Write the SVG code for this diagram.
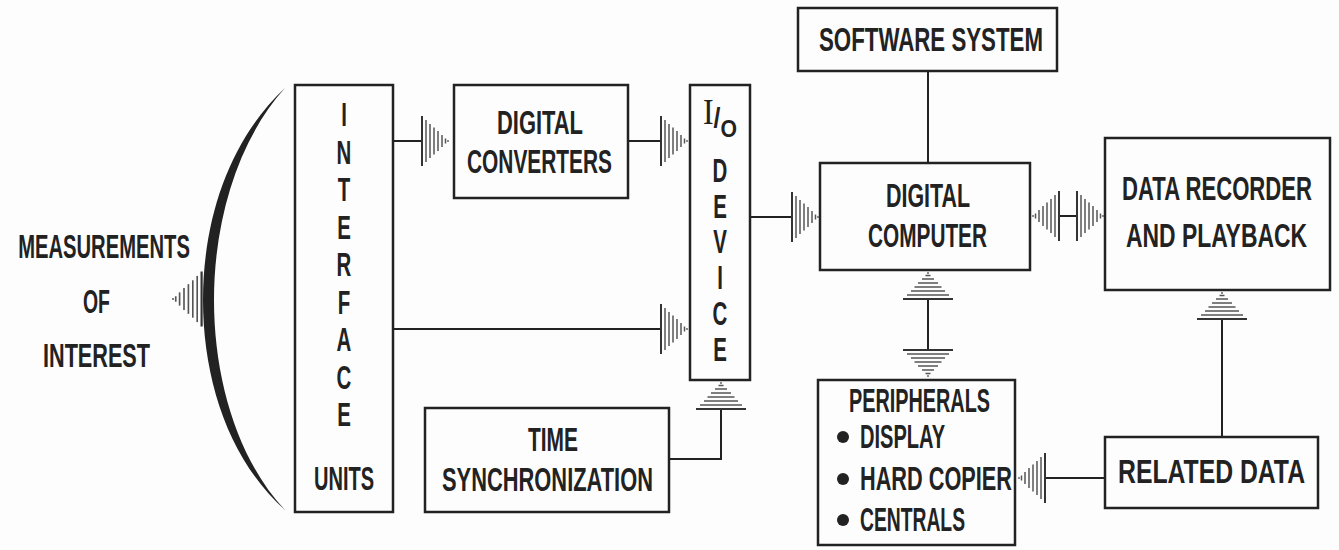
<svg xmlns="http://www.w3.org/2000/svg" xmlns:xlink="http://www.w3.org/1999/xlink" width="1339" height="550" viewBox="0 0 1339 550">
<style>
.box{fill:none;stroke:#222;stroke-width:2.5}
.ln{fill:none;stroke:#222;stroke-width:2}
.t{font-family:"Liberation Sans",Arial,sans-serif;font-weight:bold;font-size:33px;fill:#222}
.c{text-anchor:middle}
.h{stroke:#555;stroke-width:1.5;fill:none}
</style>
<defs>
<g id="ah">
<line class="h" x1="-26" y1="-25" x2="-26" y2="25" style="stroke:#333;stroke-width:2"/>
<line class="h" x1="-22" y1="-21" x2="-22" y2="21"/>
<line class="h" x1="-18" y1="-17" x2="-18" y2="17"/>
<line class="h" x1="-14" y1="-13.5" x2="-14" y2="13.5"/>
<line class="h" x1="-10" y1="-10" x2="-10" y2="10"/>
<line class="h" x1="-6" y1="-6" x2="-6" y2="6"/>
<line class="h" x1="-2.5" y1="-2.5" x2="-2.5" y2="2.5"/>
<circle cx="0" cy="0" r="0.9" fill="#555"/>
</g>
</defs>
<rect width="1339" height="550" fill="#fdfdfd"/>

<g id="measurements">
<text class="t c" transform="matrix(0.62 0 0 1 104 258)" textLength="277" lengthAdjust="spacingAndGlyphs">MEASUREMENTS</text>
<text class="t c" transform="matrix(0.62 0 0 1 96.5 313)" textLength="43.5" lengthAdjust="spacingAndGlyphs">OF</text>
<text class="t c" transform="matrix(0.62 0 0 1 96.5 367)" textLength="172.6" lengthAdjust="spacingAndGlyphs">INTEREST</text>
</g>

<g id="bracket">
<path d="M285,88 C229,140 203,220 203,300 C203,380 229,460 285,510 C238,460 214,380 214,300 C214,220 238,140 285,88 Z" fill="#222"/>
</g>

<g id="interface-units">
<rect class="box" x="295" y="85" width="98" height="427"/>
<text class="t c" transform="matrix(0.62 0 0 1 344 126)">I</text>
<text class="t c" transform="matrix(0.62 0 0 1 344 164)">N</text>
<text class="t c" transform="matrix(0.62 0 0 1 344 201)">T</text>
<text class="t c" transform="matrix(0.62 0 0 1 344 239)">E</text>
<text class="t c" transform="matrix(0.62 0 0 1 344 276)">R</text>
<text class="t c" transform="matrix(0.62 0 0 1 344 314)">F</text>
<text class="t c" transform="matrix(0.62 0 0 1 344 351)">A</text>
<text class="t c" transform="matrix(0.62 0 0 1 344 389)">C</text>
<text class="t c" transform="matrix(0.62 0 0 1 344 426)">E</text>
<text class="t c" transform="matrix(0.62 0 0 1 344 490)" textLength="96.8" lengthAdjust="spacingAndGlyphs">UNITS</text>
</g>

<g id="digital-converters">
<rect class="box" x="454" y="85" width="174" height="113"/>
<text class="t c" transform="matrix(0.62 0 0 1 540 134)" textLength="138.7" lengthAdjust="spacingAndGlyphs">DIGITAL</text>
<text class="t c" transform="matrix(0.62 0 0 1 539.5 173)" textLength="233.9" lengthAdjust="spacingAndGlyphs">CONVERTERS</text>
</g>

<g id="io-device">
<rect class="box" x="690" y="85" width="60" height="295"/>
<text class="t" x="703" y="124" textLength="34" lengthAdjust="spacingAndGlyphs"><tspan style="font-family:'Liberation Serif',serif;font-weight:normal;font-size:36px">I</tspan><tspan dy="3" style="font-size:28px">/</tspan><tspan dy="10" style="font-size:24px">O</tspan></text>
<text class="t c" transform="matrix(0.62 0 0 1 720 182)">D</text>
<text class="t c" transform="matrix(0.62 0 0 1 720 218)">E</text>
<text class="t c" transform="matrix(0.62 0 0 1 720 253)">V</text>
<text class="t c" transform="matrix(0.62 0 0 1 720 289)">I</text>
<text class="t c" transform="matrix(0.62 0 0 1 720 325)">C</text>
<text class="t c" transform="matrix(0.62 0 0 1 720 361)">E</text>
</g>

<g id="time-synchronization">
<rect class="box" x="425" y="408" width="244" height="104"/>
<text class="t c" transform="matrix(0.62 0 0 1 553 451)" textLength="80.6" lengthAdjust="spacingAndGlyphs">TIME</text>
<text class="t c" transform="matrix(0.62 0 0 1 547.5 491)" textLength="340.3" lengthAdjust="spacingAndGlyphs">SYNCHRONIZATION</text>
</g>

<g id="software-system">
<rect class="box" x="798" y="8" width="259" height="63"/>
<text class="t c" transform="matrix(0.62 0 0 1 931 51)" textLength="361.3" lengthAdjust="spacingAndGlyphs">SOFTWARE SYSTEM</text>
</g>

<g id="digital-computer">
<rect class="box" x="820" y="163" width="210" height="107"/>
<text class="t c" transform="matrix(0.62 0 0 1 928 207)" textLength="135.5" lengthAdjust="spacingAndGlyphs">DIGITAL</text>
<text class="t c" transform="matrix(0.62 0 0 1 927.5 247)" textLength="191.9" lengthAdjust="spacingAndGlyphs">COMPUTER</text>
</g>

<g id="data-recorder">
<rect class="box" x="1105" y="138" width="225" height="152"/>
<text class="t c" transform="matrix(0.62 0 0 1 1217 200)" textLength="306.5" lengthAdjust="spacingAndGlyphs">DATA RECORDER</text>
<text class="t c" transform="matrix(0.62 0 0 1 1216.5 247)" textLength="291.9" lengthAdjust="spacingAndGlyphs">AND PLAYBACK</text>
</g>

<g id="peripherals">
<rect class="box" x="818" y="380" width="197" height="165"/>
<text class="t c" transform="matrix(0.62 0 0 1 919.5 412)" textLength="227.4" lengthAdjust="spacingAndGlyphs">PERIPHERALS</text>
<circle cx="843" cy="437" r="6" fill="#222"/>
<text class="t" transform="matrix(0.62 0 0 1 860 448)" textLength="137.1" lengthAdjust="spacingAndGlyphs">DISPLAY</text>
<circle cx="843" cy="479" r="6" fill="#222"/>
<text class="t" transform="matrix(0.62 0 0 1 860 490)" textLength="245.2" lengthAdjust="spacingAndGlyphs">HARD COPIER</text>
<circle cx="843" cy="520" r="6" fill="#222"/>
<text class="t" transform="matrix(0.62 0 0 1 860 531)" textLength="169.4" lengthAdjust="spacingAndGlyphs">CENTRALS</text>
</g>

<g id="related-data">
<rect class="box" x="1105" y="437" width="213" height="71"/>
<text class="t c" transform="matrix(0.62 0 0 1 1211.5 483)" textLength="301.6" lengthAdjust="spacingAndGlyphs">RELATED DATA</text>
</g>

<g id="connectors">
<use xlink:href="#ah" href="#ah" transform="translate(173,299) rotate(180) scale(1.1)"/>
<line class="ln" x1="393" y1="141" x2="422" y2="141"/>
<use xlink:href="#ah" href="#ah" transform="translate(448,141)"/>
<line class="ln" x1="628" y1="141" x2="661" y2="141"/>
<use xlink:href="#ah" href="#ah" transform="translate(687,141)"/>
<line class="ln" x1="393" y1="329" x2="661" y2="329"/>
<use xlink:href="#ah" href="#ah" transform="translate(687,329)"/>
<polyline class="ln" points="669,459 721,459 721,409"/>
<use xlink:href="#ah" href="#ah" transform="translate(721,383) rotate(-90)"/>
<line class="ln" x1="750" y1="217" x2="792" y2="217"/>
<use xlink:href="#ah" href="#ah" transform="translate(818,217)"/>
<line class="ln" x1="928" y1="71" x2="928" y2="163"/>
<line class="ln" x1="1058" y1="216" x2="1078" y2="216"/>
<use xlink:href="#ah" href="#ah" transform="translate(1033,216) rotate(180)"/>
<use xlink:href="#ah" href="#ah" transform="translate(1103,216)"/>
<line class="ln" x1="928" y1="300" x2="928" y2="349"/>
<use xlink:href="#ah" href="#ah" transform="translate(928,273) rotate(-90)"/>
<use xlink:href="#ah" href="#ah" transform="translate(928,376) rotate(90)"/>
<line class="ln" x1="1105" y1="478" x2="1045" y2="478"/>
<use xlink:href="#ah" href="#ah" transform="translate(1019,478) rotate(180)"/>
<line class="ln" x1="1222" y1="437" x2="1222" y2="319"/>
<use xlink:href="#ah" href="#ah" transform="translate(1222,293) rotate(-90)"/>
</g>
</svg>
